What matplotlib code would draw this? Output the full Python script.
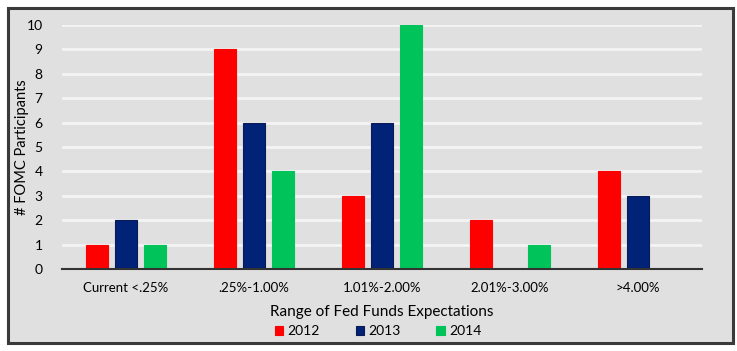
import matplotlib
matplotlib.use('Agg')
import matplotlib.pyplot as plt
import numpy as np
from matplotlib.patches import Rectangle

plt.rcParams['font.family'] = ['Lato', 'DejaVu Sans']

categories = ['Current <.25%', '.25%-1.00%', '1.01%-2.00%', '2.01%-3.00%', '>4.00%']
years = ['2012', '2013', '2014']
vals_2012 = [1, 9, 3, 2, 4]
vals_2013 = [2, 6, 6, 0, 3]
vals_2014 = [1, 4, 10, 1, 0]
colors = ['#ff0000', '#002277', '#00c35a']

bg = '#e0e0e0'
fig = plt.figure(figsize=(7.37, 3.51), dpi=100, facecolor='white')
# outer frame
fig.patches.append(Rectangle((8/737, 8/351), 725/737, 335/351, transform=fig.transFigure,
                             facecolor=bg, edgecolor='#3a3a3a', linewidth=2.2, zorder=-1))

ax = fig.add_axes([62/737, (351-269)/351, 640/737, (269-25)/351])
ax.set_facecolor(bg)
ax.patch.set_alpha(0)

x = np.arange(len(categories))
w = 0.172
step = 0.223
series = [vals_2012, vals_2013, vals_2014]
for i, (vals, c, lab) in enumerate(zip(series, colors, years)):
    ec = '#0a1a55' if i == 1 else c
    ax.bar(x + (i - 1) * step, vals, width=w, color=c, edgecolor=ec, linewidth=0.8,
           label=lab, zorder=3)

ax.set_xlim(-0.5, 4.5)
ax.set_ylim(0, 10)
ax.set_yticks(range(0, 11))
ax.yaxis.grid(True, color='#f4f4f4', linewidth=2, zorder=0)
ax.set_axisbelow(True)
for s in ['top', 'right', 'left']:
    ax.spines[s].set_visible(False)
ax.spines['bottom'].set_color('#333333')
ax.spines['bottom'].set_linewidth(1.5)
ax.spines['bottom'].set_zorder(4)
ax.tick_params(axis='both', length=0, labelsize=10, colors='black')
ax.tick_params(axis='y', pad=14)
ax.tick_params(axis='x', pad=9)
ax.set_xticks(x)
ax.set_xticklabels(categories, fontsize=9.5)
ax.set_xlabel('Range of Fed Funds Expectations', fontsize=11, labelpad=8)
ax.set_ylabel('# FOMC Participants', fontsize=10.5, va='center')
ax.yaxis.set_label_coords(-40/640, 0.5)

fig.legend(loc='center', bbox_to_anchor=(378/737, 1 - 331/351), ncol=3, frameon=False,
           fontsize=10, handlelength=0.6, handleheight=0.6, handletextpad=0.3,
           columnspacing=2.6)

fig.savefig('out.png', dpi=100, facecolor='white')
